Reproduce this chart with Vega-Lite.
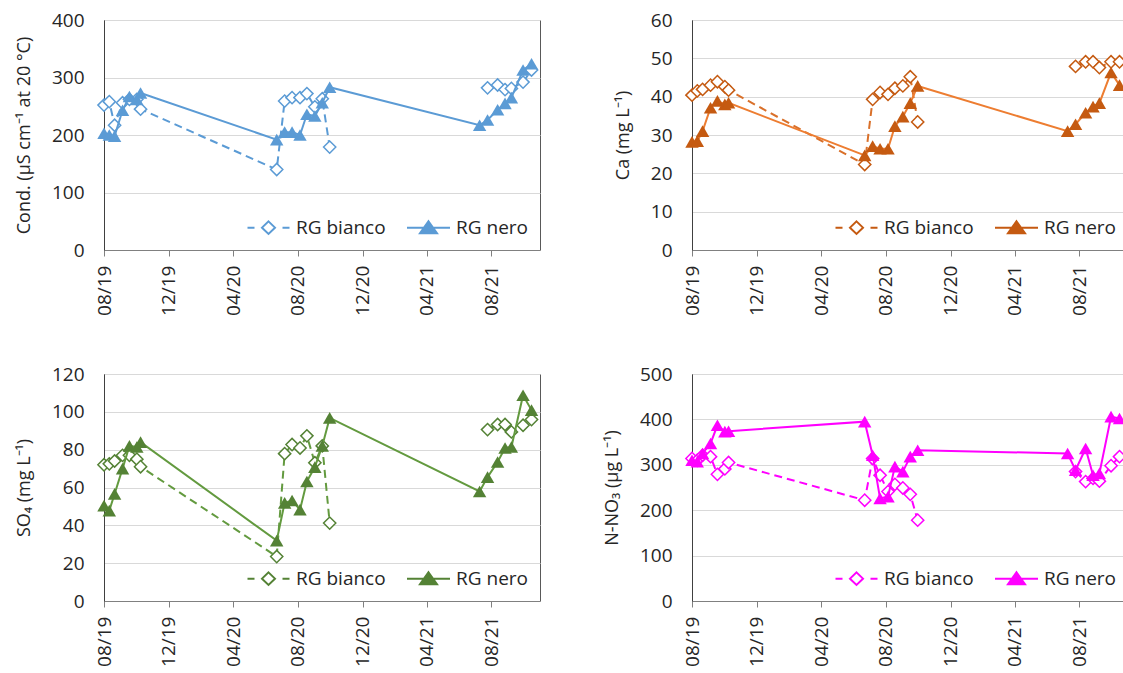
{
  "$schema": "https://vega.github.io/schema/vega-lite/v6.json",
  "padding": {"left": 14, "top": 10, "right": 0, "bottom": 0},
  "autosize": {"type": "pad"},
  "background": "white",
  "data": {"values": [
    {"p":"c","s":"RG bianco","d":"2019-08-01","v":252},{"p":"c","s":"RG bianco","d":"2019-08-11","v":258},{"p":"c","s":"RG bianco","d":"2019-08-21","v":217},{"p":"c","s":"RG bianco","d":"2019-09-05","v":256},{"p":"c","s":"RG bianco","d":"2019-09-18","v":262},{"p":"c","s":"RG bianco","d":"2019-10-02","v":262},{"p":"c","s":"RG bianco","d":"2019-10-09","v":245},
    {"p":"c","s":"RG bianco","d":"2020-06-22","v":140},{"p":"c","s":"RG bianco","d":"2020-07-07","v":259},{"p":"c","s":"RG bianco","d":"2020-07-21","v":265},{"p":"c","s":"RG bianco","d":"2020-08-05","v":265},{"p":"c","s":"RG bianco","d":"2020-08-18","v":272},{"p":"c","s":"RG bianco","d":"2020-09-02","v":249},{"p":"c","s":"RG bianco","d":"2020-09-16","v":263},{"p":"c","s":"RG bianco","d":"2020-09-30","v":179},
    {"p":"c","s":"RG bianco","d":"2021-07-10","v":null},
    {"p":"c","s":"RG bianco","d":"2021-07-25","v":282},{"p":"c","s":"RG bianco","d":"2021-08-13","v":287},{"p":"c","s":"RG bianco","d":"2021-08-27","v":279},{"p":"c","s":"RG bianco","d":"2021-09-08","v":281},{"p":"c","s":"RG bianco","d":"2021-09-30","v":292},{"p":"c","s":"RG bianco","d":"2021-10-16","v":313},
    {"p":"c","s":"RG nero","d":"2019-08-01","v":203},{"p":"c","s":"RG nero","d":"2019-08-11","v":200},{"p":"c","s":"RG nero","d":"2019-08-21","v":198},{"p":"c","s":"RG nero","d":"2019-09-05","v":243},{"p":"c","s":"RG nero","d":"2019-09-18","v":267},{"p":"c","s":"RG nero","d":"2019-10-02","v":262},{"p":"c","s":"RG nero","d":"2019-10-09","v":273},
    {"p":"c","s":"RG nero","d":"2020-06-22","v":192},{"p":"c","s":"RG nero","d":"2020-07-07","v":205},{"p":"c","s":"RG nero","d":"2020-07-21","v":205},{"p":"c","s":"RG nero","d":"2020-08-05","v":200},{"p":"c","s":"RG nero","d":"2020-08-18","v":236},{"p":"c","s":"RG nero","d":"2020-09-02","v":233},{"p":"c","s":"RG nero","d":"2020-09-16","v":256},{"p":"c","s":"RG nero","d":"2020-09-30","v":283},
    {"p":"c","s":"RG nero","d":"2021-07-10","v":217},{"p":"c","s":"RG nero","d":"2021-07-25","v":226},{"p":"c","s":"RG nero","d":"2021-08-13","v":244},{"p":"c","s":"RG nero","d":"2021-08-27","v":255},{"p":"c","s":"RG nero","d":"2021-09-08","v":265},{"p":"c","s":"RG nero","d":"2021-09-30","v":313},{"p":"c","s":"RG nero","d":"2021-10-16","v":324},

    {"p":"a","s":"RG bianco","d":"2019-08-01","v":40.4},{"p":"a","s":"RG bianco","d":"2019-08-11","v":41.5},{"p":"a","s":"RG bianco","d":"2019-08-21","v":41.9},{"p":"a","s":"RG bianco","d":"2019-09-05","v":43.0},{"p":"a","s":"RG bianco","d":"2019-09-18","v":43.9},{"p":"a","s":"RG bianco","d":"2019-10-02","v":42.6},{"p":"a","s":"RG bianco","d":"2019-10-09","v":41.7},
    {"p":"a","s":"RG bianco","d":"2020-06-22","v":22.3},{"p":"a","s":"RG bianco","d":"2020-07-07","v":39.3},{"p":"a","s":"RG bianco","d":"2020-07-21","v":41.1},{"p":"a","s":"RG bianco","d":"2020-08-05","v":40.6},{"p":"a","s":"RG bianco","d":"2020-08-18","v":42.2},{"p":"a","s":"RG bianco","d":"2020-09-02","v":42.8},{"p":"a","s":"RG bianco","d":"2020-09-16","v":45.2},{"p":"a","s":"RG bianco","d":"2020-09-30","v":33.4},
    {"p":"a","s":"RG bianco","d":"2021-07-10","v":null},
    {"p":"a","s":"RG bianco","d":"2021-07-25","v":47.9},{"p":"a","s":"RG bianco","d":"2021-08-13","v":49.1},{"p":"a","s":"RG bianco","d":"2021-08-27","v":49.1},{"p":"a","s":"RG bianco","d":"2021-09-08","v":47.6},{"p":"a","s":"RG bianco","d":"2021-09-30","v":49.1},{"p":"a","s":"RG bianco","d":"2021-10-16","v":49.1},
    {"p":"a","s":"RG nero","d":"2019-08-01","v":28.2},{"p":"a","s":"RG nero","d":"2019-08-11","v":28.4},{"p":"a","s":"RG nero","d":"2019-08-21","v":31.0},{"p":"a","s":"RG nero","d":"2019-09-05","v":37.1},{"p":"a","s":"RG nero","d":"2019-09-18","v":38.9},{"p":"a","s":"RG nero","d":"2019-10-02","v":38.0},{"p":"a","s":"RG nero","d":"2019-10-09","v":38.4},
    {"p":"a","s":"RG nero","d":"2020-06-22","v":24.7},{"p":"a","s":"RG nero","d":"2020-07-07","v":27.1},{"p":"a","s":"RG nero","d":"2020-07-21","v":26.4},{"p":"a","s":"RG nero","d":"2020-08-05","v":26.4},{"p":"a","s":"RG nero","d":"2020-08-18","v":32.3},{"p":"a","s":"RG nero","d":"2020-09-02","v":34.8},{"p":"a","s":"RG nero","d":"2020-09-16","v":38.3},{"p":"a","s":"RG nero","d":"2020-09-30","v":42.8},
    {"p":"a","s":"RG nero","d":"2021-07-10","v":31.0},{"p":"a","s":"RG nero","d":"2021-07-25","v":32.8},{"p":"a","s":"RG nero","d":"2021-08-13","v":35.8},{"p":"a","s":"RG nero","d":"2021-08-27","v":37.4},{"p":"a","s":"RG nero","d":"2021-09-08","v":38.3},{"p":"a","s":"RG nero","d":"2021-09-30","v":46.3},{"p":"a","s":"RG nero","d":"2021-10-16","v":43.0},

    {"p":"s","s":"RG bianco","d":"2019-08-01","v":72},{"p":"s","s":"RG bianco","d":"2019-08-11","v":72.5},{"p":"s","s":"RG bianco","d":"2019-08-21","v":74},{"p":"s","s":"RG bianco","d":"2019-09-05","v":77},{"p":"s","s":"RG bianco","d":"2019-09-18","v":77},{"p":"s","s":"RG bianco","d":"2019-10-02","v":75},{"p":"s","s":"RG bianco","d":"2019-10-09","v":71},
    {"p":"s","s":"RG bianco","d":"2020-06-22","v":23.5},{"p":"s","s":"RG bianco","d":"2020-07-07","v":77.9},{"p":"s","s":"RG bianco","d":"2020-07-21","v":82.7},{"p":"s","s":"RG bianco","d":"2020-08-05","v":80.9},{"p":"s","s":"RG bianco","d":"2020-08-18","v":87.3},{"p":"s","s":"RG bianco","d":"2020-09-02","v":73.1},{"p":"s","s":"RG bianco","d":"2020-09-16","v":82},{"p":"s","s":"RG bianco","d":"2020-09-30","v":41.2},
    {"p":"s","s":"RG bianco","d":"2021-07-10","v":null},
    {"p":"s","s":"RG bianco","d":"2021-07-25","v":90.6},{"p":"s","s":"RG bianco","d":"2021-08-13","v":93.3},{"p":"s","s":"RG bianco","d":"2021-08-27","v":93.3},{"p":"s","s":"RG bianco","d":"2021-09-08","v":89.4},{"p":"s","s":"RG bianco","d":"2021-09-30","v":92.9},{"p":"s","s":"RG bianco","d":"2021-10-16","v":95.9},
    {"p":"s","s":"RG nero","d":"2019-08-01","v":50.4},{"p":"s","s":"RG nero","d":"2019-08-11","v":47.8},{"p":"s","s":"RG nero","d":"2019-08-21","v":56.6},{"p":"s","s":"RG nero","d":"2019-09-05","v":70},{"p":"s","s":"RG nero","d":"2019-09-18","v":82},{"p":"s","s":"RG nero","d":"2019-10-02","v":81.4},{"p":"s","s":"RG nero","d":"2019-10-09","v":84},
    {"p":"s","s":"RG nero","d":"2020-06-22","v":31.9},{"p":"s","s":"RG nero","d":"2020-07-07","v":51.9},{"p":"s","s":"RG nero","d":"2020-07-21","v":53.1},{"p":"s","s":"RG nero","d":"2020-08-05","v":48.3},{"p":"s","s":"RG nero","d":"2020-08-18","v":63.2},{"p":"s","s":"RG nero","d":"2020-09-02","v":70.8},{"p":"s","s":"RG nero","d":"2020-09-16","v":82},{"p":"s","s":"RG nero","d":"2020-09-30","v":96.8},
    {"p":"s","s":"RG nero","d":"2021-07-10","v":57.9},{"p":"s","s":"RG nero","d":"2021-07-25","v":65.5},{"p":"s","s":"RG nero","d":"2021-08-13","v":73.5},{"p":"s","s":"RG nero","d":"2021-08-27","v":80.9},{"p":"s","s":"RG nero","d":"2021-09-08","v":81.4},{"p":"s","s":"RG nero","d":"2021-09-30","v":108.8},{"p":"s","s":"RG nero","d":"2021-10-16","v":100.9},

    {"p":"n","s":"RG bianco","d":"2019-08-01","v":314},{"p":"n","s":"RG bianco","d":"2019-08-11","v":310},{"p":"n","s":"RG bianco","d":"2019-08-21","v":321},{"p":"n","s":"RG bianco","d":"2019-09-05","v":318},{"p":"n","s":"RG bianco","d":"2019-09-18","v":279},{"p":"n","s":"RG bianco","d":"2019-10-02","v":291},{"p":"n","s":"RG bianco","d":"2019-10-09","v":305},
    {"p":"n","s":"RG bianco","d":"2020-06-22","v":222},{"p":"n","s":"RG bianco","d":"2020-07-07","v":314},{"p":"n","s":"RG bianco","d":"2020-07-21","v":277},{"p":"n","s":"RG bianco","d":"2020-08-05","v":241},{"p":"n","s":"RG bianco","d":"2020-08-18","v":257},{"p":"n","s":"RG bianco","d":"2020-09-02","v":249},{"p":"n","s":"RG bianco","d":"2020-09-16","v":235},{"p":"n","s":"RG bianco","d":"2020-09-30","v":178},
    {"p":"n","s":"RG bianco","d":"2021-07-10","v":null},
    {"p":"n","s":"RG bianco","d":"2021-07-25","v":285},{"p":"n","s":"RG bianco","d":"2021-08-13","v":263},{"p":"n","s":"RG bianco","d":"2021-08-27","v":270},{"p":"n","s":"RG bianco","d":"2021-09-08","v":264},{"p":"n","s":"RG bianco","d":"2021-09-30","v":298},{"p":"n","s":"RG bianco","d":"2021-10-16","v":318},
    {"p":"n","s":"RG nero","d":"2019-08-01","v":310},{"p":"n","s":"RG nero","d":"2019-08-11","v":307},{"p":"n","s":"RG nero","d":"2019-08-21","v":325},{"p":"n","s":"RG nero","d":"2019-09-05","v":347},{"p":"n","s":"RG nero","d":"2019-09-18","v":387},{"p":"n","s":"RG nero","d":"2019-10-02","v":373},{"p":"n","s":"RG nero","d":"2019-10-09","v":374},
    {"p":"n","s":"RG nero","d":"2020-06-22","v":395},{"p":"n","s":"RG nero","d":"2020-07-07","v":321},{"p":"n","s":"RG nero","d":"2020-07-21","v":226},{"p":"n","s":"RG nero","d":"2020-08-05","v":230},{"p":"n","s":"RG nero","d":"2020-08-18","v":296},{"p":"n","s":"RG nero","d":"2020-09-02","v":285},{"p":"n","s":"RG nero","d":"2020-09-16","v":318},{"p":"n","s":"RG nero","d":"2020-09-30","v":332},
    {"p":"n","s":"RG nero","d":"2021-07-10","v":325},{"p":"n","s":"RG nero","d":"2021-07-25","v":288},{"p":"n","s":"RG nero","d":"2021-08-13","v":336},{"p":"n","s":"RG nero","d":"2021-08-27","v":277},{"p":"n","s":"RG nero","d":"2021-09-08","v":281},{"p":"n","s":"RG nero","d":"2021-09-30","v":406},{"p":"n","s":"RG nero","d":"2021-10-16","v":402}
  ]},
  "columns": 2,
  "spacing": {"row": 48, "column": 60},
  "resolve": {"scale": {"x": "independent", "y": "independent", "shape": "independent"}, "legend": {"shape": "independent"}},
  "concat": [
    {
      "width": 436, "height": 230,
      "transform": [{"filter": "datum.p === 'c'"}],
      "encoding": {
        "x": {"field": "d", "type": "temporal", "scale": {"type": "utc", "nice": false, "domain": [{"year": 2019, "month": 8, "date": 1, "utc": true}, {"year": 2021, "month": 11, "date": 1, "utc": true}]}, "axis": {"title": null, "format": "%m/%y", "values": [{"year":2019,"month":8,"date":1,"utc":true},{"year":2019,"month":12,"date":1,"utc":true},{"year":2020,"month":4,"date":1,"utc":true},{"year":2020,"month":8,"date":1,"utc":true},{"year":2020,"month":12,"date":1,"utc":true},{"year":2021,"month":4,"date":1,"utc":true},{"year":2021,"month":8,"date":1,"utc":true}]}},
        "y": {"field": "v", "type": "quantitative", "scale": {"domain": [0, 400], "nice": false}, "axis": {"title": "Cond. (µS cm⁻¹ at 20 °C)", "values": [0, 100, 200, 300, 400]}}
      },
      "layer": [
        {"transform": [{"filter": "datum.s === 'RG bianco'"}], "mark": {"type": "line", "color": "#5B9BD5", "strokeWidth": 2, "strokeDash": [8, 5], "invalid": "break-paths-show-domains"}, "encoding": {}},
        {"transform": [{"filter": "datum.s === 'RG bianco' && datum.v != null"}], "mark": {"type": "point", "shape": "diamond", "fill": "white", "stroke": "#5B9BD5", "strokeWidth": 1.5, "size": 150, "opacity": 1}, "encoding": {}},
        {"transform": [{"filter": "datum.s === 'RG nero'"}], "mark": {"type": "line", "color": "#5B9BD5", "strokeWidth": 2}, "encoding": {}},
        {"transform": [{"filter": "datum.s === 'RG nero'"}], "mark": {"type": "point", "shape": "triangle-up", "filled": true, "color": "#5B9BD5", "size": 180, "opacity": 1}, "encoding": {}},
        {"transform": [{"filter": "false"}], "mark": {"type": "point", "filled": false, "color": "#5B9BD5", "strokeWidth": 2, "opacity": 1}, "encoding": {"shape": {"field": "s", "type": "nominal", "scale": {"domain": ["RG bianco", "RG nero"], "range": ["M-4.2,0L-2.8,0M2.8,0L4.2,0M0,-1.25L1.3,0L0,1.25L-1.3,0Z", "M-4.3,0L4.3,0M0,-1.3L1.7,1.1L-1.7,1.1ZM-0.28,-0.9L0.28,-0.9M-0.57,-0.5L0.57,-0.5M-0.85,-0.1L0.85,-0.1M-1.13,0.3L1.13,0.3M-1.42,0.7L1.42,0.7"]}, "legend": {"title": null, "orient": "bottom-right", "direction": "horizontal", "offset": 12, "padding": 0, "symbolSize": 100, "symbolStrokeWidth": 2, "labelOffset": 18, "columnPadding": 17}}}}
      ]
    },
    {
      "width": 436, "height": 230,
      "transform": [{"filter": "datum.p === 'a'"}],
      "encoding": {
        "x": {"field": "d", "type": "temporal", "scale": {"type": "utc", "nice": false, "domain": [{"year": 2019, "month": 8, "date": 1, "utc": true}, {"year": 2021, "month": 11, "date": 1, "utc": true}]}, "axis": {"title": null, "format": "%m/%y", "values": [{"year":2019,"month":8,"date":1,"utc":true},{"year":2019,"month":12,"date":1,"utc":true},{"year":2020,"month":4,"date":1,"utc":true},{"year":2020,"month":8,"date":1,"utc":true},{"year":2020,"month":12,"date":1,"utc":true},{"year":2021,"month":4,"date":1,"utc":true},{"year":2021,"month":8,"date":1,"utc":true}]}},
        "y": {"field": "v", "type": "quantitative", "scale": {"domain": [0, 60], "nice": false}, "axis": {"title": "Ca (mg L⁻¹)", "values": [0, 10, 20, 30, 40, 50, 60]}}
      },
      "layer": [
        {"transform": [{"filter": "datum.s === 'RG bianco'"}], "mark": {"type": "line", "color": "#D9702A", "strokeWidth": 2, "strokeDash": [8, 5], "invalid": "break-paths-show-domains"}, "encoding": {}},
        {"transform": [{"filter": "datum.s === 'RG bianco' && datum.v != null"}], "mark": {"type": "point", "shape": "diamond", "fill": "white", "stroke": "#C55A11", "strokeWidth": 1.5, "size": 150, "opacity": 1}, "encoding": {}},
        {"transform": [{"filter": "datum.s === 'RG nero'"}], "mark": {"type": "line", "color": "#ED7D31", "strokeWidth": 2}, "encoding": {}},
        {"transform": [{"filter": "datum.s === 'RG nero'"}], "mark": {"type": "point", "shape": "triangle-up", "filled": true, "color": "#C55A11", "size": 180, "opacity": 1}, "encoding": {}},
        {"transform": [{"filter": "false"}], "mark": {"type": "point", "filled": false, "color": "#C55A11", "strokeWidth": 2, "opacity": 1}, "encoding": {"shape": {"field": "s", "type": "nominal", "scale": {"domain": ["RG bianco", "RG nero"], "range": ["M-4.2,0L-2.8,0M2.8,0L4.2,0M0,-1.25L1.3,0L0,1.25L-1.3,0Z", "M-4.3,0L4.3,0M0,-1.3L1.7,1.1L-1.7,1.1ZM-0.28,-0.9L0.28,-0.9M-0.57,-0.5L0.57,-0.5M-0.85,-0.1L0.85,-0.1M-1.13,0.3L1.13,0.3M-1.42,0.7L1.42,0.7"]}, "legend": {"title": null, "orient": "bottom-right", "direction": "horizontal", "offset": 12, "padding": 0, "symbolSize": 100, "symbolStrokeWidth": 2, "labelOffset": 18, "columnPadding": 17}}}}
      ]
    },
    {
      "width": 436, "height": 227,
      "transform": [{"filter": "datum.p === 's'"}],
      "encoding": {
        "x": {"field": "d", "type": "temporal", "scale": {"type": "utc", "nice": false, "domain": [{"year": 2019, "month": 8, "date": 1, "utc": true}, {"year": 2021, "month": 11, "date": 1, "utc": true}]}, "axis": {"title": null, "format": "%m/%y", "values": [{"year":2019,"month":8,"date":1,"utc":true},{"year":2019,"month":12,"date":1,"utc":true},{"year":2020,"month":4,"date":1,"utc":true},{"year":2020,"month":8,"date":1,"utc":true},{"year":2020,"month":12,"date":1,"utc":true},{"year":2021,"month":4,"date":1,"utc":true},{"year":2021,"month":8,"date":1,"utc":true}]}},
        "y": {"field": "v", "type": "quantitative", "scale": {"domain": [0, 120], "nice": false}, "axis": {"title": "SO₄ (mg L⁻¹)", "values": [0, 20, 40, 60, 80, 100, 120]}}
      },
      "layer": [
        {"transform": [{"filter": "datum.s === 'RG bianco'"}], "mark": {"type": "line", "color": "#639A3F", "strokeWidth": 2, "strokeDash": [8, 5], "invalid": "break-paths-show-domains"}, "encoding": {}},
        {"transform": [{"filter": "datum.s === 'RG bianco' && datum.v != null"}], "mark": {"type": "point", "shape": "diamond", "fill": "white", "stroke": "#548235", "strokeWidth": 1.5, "size": 150, "opacity": 1}, "encoding": {}},
        {"transform": [{"filter": "datum.s === 'RG nero'"}], "mark": {"type": "line", "color": "#639A3F", "strokeWidth": 2}, "encoding": {}},
        {"transform": [{"filter": "datum.s === 'RG nero'"}], "mark": {"type": "point", "shape": "triangle-up", "filled": true, "color": "#548235", "size": 180, "opacity": 1}, "encoding": {}},
        {"transform": [{"filter": "false"}], "mark": {"type": "point", "filled": false, "color": "#548235", "strokeWidth": 2, "opacity": 1}, "encoding": {"shape": {"field": "s", "type": "nominal", "scale": {"domain": ["RG bianco", "RG nero"], "range": ["M-4.2,0L-2.8,0M2.8,0L4.2,0M0,-1.25L1.3,0L0,1.25L-1.3,0Z", "M-4.3,0L4.3,0M0,-1.3L1.7,1.1L-1.7,1.1ZM-0.28,-0.9L0.28,-0.9M-0.57,-0.5L0.57,-0.5M-0.85,-0.1L0.85,-0.1M-1.13,0.3L1.13,0.3M-1.42,0.7L1.42,0.7"]}, "legend": {"title": null, "orient": "bottom-right", "direction": "horizontal", "offset": 12, "padding": 0, "symbolSize": 100, "symbolStrokeWidth": 2, "labelOffset": 18, "columnPadding": 17}}}}
      ]
    },
    {
      "width": 436, "height": 227,
      "transform": [{"filter": "datum.p === 'n'"}],
      "encoding": {
        "x": {"field": "d", "type": "temporal", "scale": {"type": "utc", "nice": false, "domain": [{"year": 2019, "month": 8, "date": 1, "utc": true}, {"year": 2021, "month": 11, "date": 1, "utc": true}]}, "axis": {"title": null, "format": "%m/%y", "values": [{"year":2019,"month":8,"date":1,"utc":true},{"year":2019,"month":12,"date":1,"utc":true},{"year":2020,"month":4,"date":1,"utc":true},{"year":2020,"month":8,"date":1,"utc":true},{"year":2020,"month":12,"date":1,"utc":true},{"year":2021,"month":4,"date":1,"utc":true},{"year":2021,"month":8,"date":1,"utc":true}]}},
        "y": {"field": "v", "type": "quantitative", "scale": {"domain": [0, 500], "nice": false}, "axis": {"title": "N-NO₃ (µg L⁻¹)", "values": [0, 100, 200, 300, 400, 500]}}
      },
      "layer": [
        {"transform": [{"filter": "datum.s === 'RG bianco'"}], "mark": {"type": "line", "color": "#FF00FF", "strokeWidth": 2, "strokeDash": [8, 5], "invalid": "break-paths-show-domains"}, "encoding": {}},
        {"transform": [{"filter": "datum.s === 'RG bianco' && datum.v != null"}], "mark": {"type": "point", "shape": "diamond", "fill": "white", "stroke": "#FF00FF", "strokeWidth": 1.5, "size": 150, "opacity": 1}, "encoding": {}},
        {"transform": [{"filter": "datum.s === 'RG nero'"}], "mark": {"type": "line", "color": "#FF00FF", "strokeWidth": 2}, "encoding": {}},
        {"transform": [{"filter": "datum.s === 'RG nero'"}], "mark": {"type": "point", "shape": "triangle-up", "filled": true, "color": "#FF00FF", "size": 180, "opacity": 1}, "encoding": {}},
        {"transform": [{"filter": "false"}], "mark": {"type": "point", "filled": false, "color": "#FF00FF", "strokeWidth": 2, "opacity": 1}, "encoding": {"shape": {"field": "s", "type": "nominal", "scale": {"domain": ["RG bianco", "RG nero"], "range": ["M-4.2,0L-2.8,0M2.8,0L4.2,0M0,-1.25L1.3,0L0,1.25L-1.3,0Z", "M-4.3,0L4.3,0M0,-1.3L1.7,1.1L-1.7,1.1ZM-0.28,-0.9L0.28,-0.9M-0.57,-0.5L0.57,-0.5M-0.85,-0.1L0.85,-0.1M-1.13,0.3L1.13,0.3M-1.42,0.7L1.42,0.7"]}, "legend": {"title": null, "orient": "bottom-right", "direction": "horizontal", "offset": 12, "padding": 0, "symbolSize": 100, "symbolStrokeWidth": 2, "labelOffset": 18, "columnPadding": 17}}}}
      ]
    }
  ],
  "config": {
    "font": "Open Sans",
    "view": {"stroke": "#595959", "strokeWidth": 1},
    "axis": {"labelFont": "Open Sans", "labelFontSize": 19, "labelColor": "#262626", "titleFont": "Open Sans", "titleFontSize": 18, "titleFontWeight": "normal", "titleColor": "#262626", "labelFlush": false, "labelOverlap": false},
    "axisX": {"grid": false, "labelAngle": -90, "ticks": true, "tickSize": 6, "tickColor": "#808080", "domainColor": "#808080", "labelPadding": 9},
    "axisY": {"grid": true, "gridColor": "#d9d9d9", "ticks": false, "domainColor": "#404040", "labelPadding": 20, "titlePadding": 18},
    "legend": {"labelFont": "Open Sans", "labelFontSize": 19, "labelColor": "#262626"}
  }
}
